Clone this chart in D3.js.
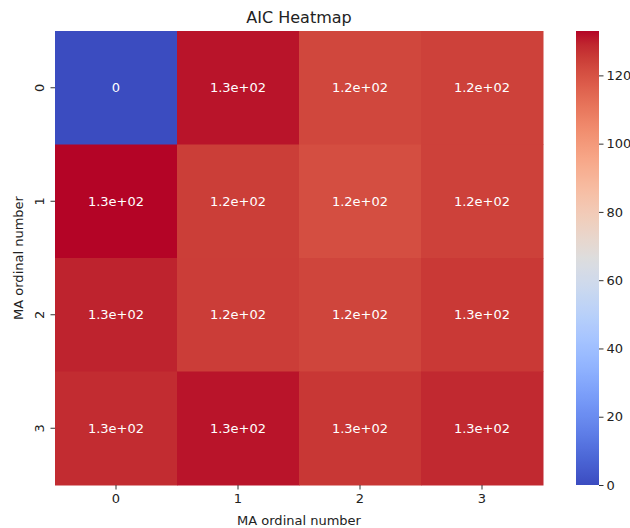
<!DOCTYPE html>
<html>
<head>
<meta charset="utf-8">
<script src="https://cdn.jsdelivr.net/npm/d3@7"></script>
<style>
    body { margin: 0; background: #fff; }
    svg { font-family: 'DejaVu Sans', sans-serif; }
</style>
</head>
<body>
<svg id="chart" width="630" height="528"></svg>
<script>
const xLabels = ['0', '1', '2', '3'];
const yLabels = ['0', '1', '2', '3'];
const aicRows = [
    [0, 131.2, 122.6, 123.9],
    [133.0, 124.7, 121.0, 123.9],
    [129.4, 124.8, 123.0, 125.6],
    [128.0, 131.2, 126.0, 128.6]
];
const cbarTicks = [0, 20, 40, 60, 80, 100, 120];

// matplotlib coolwarm control points
const coolwarm = [
    [59, 76, 192], [68, 90, 204], [77, 104, 215], [87, 117, 225], [98, 130, 234],
    [108, 142, 241], [119, 154, 247], [130, 165, 251], [141, 176, 254], [152, 185, 255],
    [163, 194, 255], [174, 201, 253], [184, 208, 249], [194, 213, 244], [204, 217, 238],
    [213, 219, 230], [221, 221, 221], [229, 216, 209], [236, 211, 197], [241, 204, 185],
    [245, 196, 173], [247, 187, 160], [247, 177, 148], [247, 166, 135], [244, 154, 123],
    [241, 141, 111], [236, 127, 99], [229, 112, 88], [222, 96, 77], [213, 80, 66],
    [203, 62, 56], [192, 40, 47], [180, 4, 38]
];

const cells = [];
aicRows.forEach((row, r) => row.forEach((v, c) => cells.push({ r, c, v })));
const vmin = d3.min(cells, d => d.v);
const vmax = d3.max(cells, d => d.v);

const color = d3.scaleLinear()
    .domain(coolwarm.map((_, i) => vmin + (vmax - vmin) * i / (coolwarm.length - 1)))
    .range(coolwarm.map(c => d3.rgb(c[0], c[1], c[2])))
    .clamp(true);

const svg = d3.select('#chart');
const mLeft = 55, mRight = 543, mTop = 31, mBottom = 485;

const x = d3.scaleBand().domain(xLabels).range([mLeft, mRight]);
const y = d3.scaleBand().domain(yLabels).range([mTop, mBottom]);

svg.append('g')
    .selectAll('rect')
    .data(cells)
    .enter()
    .append('rect')
    .attr('x', d => x(xLabels[d.c]))
    .attr('y', d => y(yLabels[d.r]))
    .attr('width', x.bandwidth() + 0.5)
    .attr('height', y.bandwidth() + 0.5)
    .attr('fill', d => color(d.v));

// python style .2g -> 1.3e+02
const annot = v => {
    if (v === 0) return '0';
    const exp = Math.floor(Math.log10(Math.abs(v)));
    if (exp >= 2) {
        const m = (v / Math.pow(10, exp)).toFixed(1);
        return m + 'e+' + String(exp).padStart(2, '0');
    }
    return d3.format('.2g')(v);
};

svg.append('g')
    .selectAll('text')
    .data(cells)
    .enter()
    .append('text')
    .attr('x', d => x(xLabels[d.c]) + x.bandwidth() / 2)
    .attr('y', d => y(yLabels[d.r]) + y.bandwidth() / 2)
    .attr('text-anchor', 'middle')
    .attr('dominant-baseline', 'central')
    .style('font-size', '13px')
    .style('fill', '#fff')
    .text(d => annot(d.v));

// axes
const xAxis = svg.append('g')
    .attr('transform', 'translate(0,' + mBottom + ')')
    .call(d3.axisBottom(x).tickSize(4.5).tickPadding(4));
const yAxis = svg.append('g')
    .attr('transform', 'translate(' + mLeft + ',0)')
    .call(d3.axisLeft(y).tickSize(4.5).tickPadding(4));
[xAxis, yAxis].forEach(a => {
    a.select('.domain').remove();
    a.selectAll('line').attr('stroke', '#333');
    a.selectAll('text').style('font-size', '13px').style('font-family', 'DejaVu Sans').attr('fill', '#222');
});
yAxis.selectAll('text')
    .attr('x', null).attr('dy', null)
    .attr('text-anchor', 'middle')
    .attr('dominant-baseline', 'central')
    .attr('transform', 'translate(-16,0) rotate(-90)');

svg.append('text')
    .attr('x', (mLeft + mRight) / 2)
    .attr('y', 520)
    .attr('text-anchor', 'middle')
    .attr('dominant-baseline', 'central')
    .style('font-size', '13px')
    .style('fill', '#222')
    .text('MA ordinal number');

svg.append('text')
    .attr('transform', 'translate(18,' + (mTop + mBottom) / 2 + ') rotate(-90)')
    .attr('text-anchor', 'middle')
    .attr('dominant-baseline', 'central')
    .style('font-size', '13px')
    .style('fill', '#222')
    .text('MA ordinal number');

svg.append('text')
    .attr('x', (mLeft + mRight) / 2)
    .attr('y', 17)
    .attr('text-anchor', 'middle')
    .attr('dominant-baseline', 'central')
    .style('font-size', '16px')
    .style('fill', '#222')
    .text('AIC Heatmap');

// colorbar
const cbX = 576, cbW = 23;
const cScale = d3.scaleLinear().domain([vmin, vmax]).range([mBottom, mTop]);
const grad = svg.append('defs').append('linearGradient')
    .attr('id', 'cbar').attr('x1', 0).attr('y1', 1).attr('x2', 0).attr('y2', 0);
grad.selectAll('stop')
    .data(d3.range(0, 1.0001, 0.01))
    .enter()
    .append('stop')
    .attr('offset', t => t)
    .attr('stop-color', t => color(vmin + t * (vmax - vmin)));
svg.append('rect')
    .attr('x', cbX).attr('y', mTop)
    .attr('width', cbW).attr('height', mBottom - mTop)
    .attr('fill', 'url(#cbar)');

const cAxis = svg.append('g')
    .attr('transform', 'translate(' + (cbX + cbW) + ',0)')
    .call(d3.axisRight(cScale).tickValues(cbarTicks).tickSize(4.5).tickPadding(3));
cAxis.select('.domain').remove();
cAxis.selectAll('line').attr('stroke', '#333');
cAxis.selectAll('text').style('font-size', '13px').style('font-family', 'DejaVu Sans').attr('fill', '#222');
</script>
</body>
</html>
